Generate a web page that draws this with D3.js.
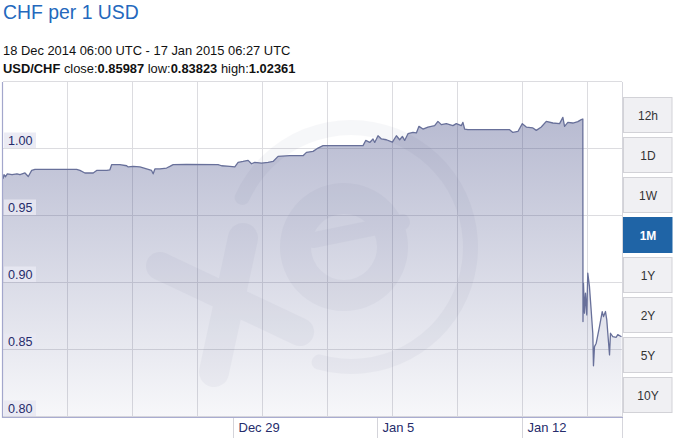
<!DOCTYPE html>
<html>
<head>
<meta charset="utf-8">
<script src="https://cdn.jsdelivr.net/npm/d3@7"></script>
<style>
  html, body { margin: 0; padding: 0; background: #fff; }
  svg { display: block; font-family: "Liberation Sans", Arial, Helvetica, sans-serif; }
</style>
</head>
<body>
<svg id="chart" width="674" height="438"></svg>
<script>
// ---------- data ----------
const title = "CHF per 1 USD";
const periodText = "18 Dec 2014 06:00 UTC - 17 Jan 2015 06:27 UTC";
const pairName = "USD/CHF";
const statLabels = ["close:", "low:", "high:"];
const statValues = ["0.85987", "0.83823", "1.02361"];

const times = [
  "2014-12-18T06:00Z","2014-12-18T07:10Z","2014-12-18T08:55Z","2014-12-18T11:00Z","2014-12-18T16:30Z",
  "2014-12-18T22:18Z","2014-12-19T01:47Z","2014-12-19T07:36Z","2014-12-19T11:27Z","2014-12-19T15:24Z",
  "2014-12-19T19:15Z","2014-12-21T19:48Z","2014-12-21T23:37Z","2014-12-22T05:26Z","2014-12-22T15:06Z",
  "2014-12-22T19:04Z","2014-12-23T07:03Z","2014-12-23T10:32Z","2014-12-23T12:31Z","2014-12-23T22:10Z",
  "2014-12-24T06:00Z","2014-12-24T07:50Z","2014-12-24T13:39Z","2014-12-24T21:27Z","2014-12-25T05:15Z",
  "2014-12-25T11:04Z","2014-12-25T12:56Z","2014-12-25T14:55Z","2014-12-25T20:44Z","2014-12-26T04:32Z",
  "2014-12-26T08:22Z","2014-12-26T12:13Z","2014-12-27T03:49Z","2014-12-28T16:35Z","2014-12-28T20:33Z",
  "2014-12-29T06:12Z","2014-12-29T12:01Z","2014-12-29T15:51Z","2014-12-29T21:40Z","2014-12-30T03:29Z",
  "2014-12-30T07:26Z","2014-12-30T11:17Z","2014-12-30T19:05Z","2014-12-31T02:46Z","2014-12-31T08:35Z",
  "2014-12-31T14:24Z","2015-01-01T04:02Z","2015-01-01T19:31Z","2015-01-01T23:28Z","2015-01-02T07:09Z",
  "2015-01-02T12:58Z","2015-01-02T18:48Z","2015-01-04T17:22Z","2015-01-04T20:30Z","2015-01-05T01:10Z",
  "2015-01-05T05:00Z","2015-01-05T07:00Z","2015-01-05T10:50Z","2015-01-05T14:47Z","2015-01-05T20:36Z",
  "2015-01-06T03:35Z","2015-01-06T08:14Z","2015-01-06T12:04Z","2015-01-06T15:13Z","2015-01-06T17:53Z",
  "2015-01-06T21:44Z","2015-01-07T03:33Z","2015-01-07T07:30Z","2015-01-07T10:32Z","2015-01-07T15:11Z",
  "2015-01-07T21:00Z","2015-01-08T04:48Z","2015-01-08T08:38Z","2015-01-08T12:35Z","2015-01-08T18:24Z",
  "2015-01-09T02:05Z","2015-01-09T06:02Z","2015-01-09T11:51Z","2015-01-09T13:43Z","2015-01-09T15:42Z",
  "2015-01-09T19:33Z","2015-01-11T20:07Z","2015-01-11T23:58Z","2015-01-12T05:47Z","2015-01-12T10:55Z",
  "2015-01-12T15:34Z","2015-01-12T23:15Z","2015-01-13T03:12Z","2015-01-13T09:01Z","2015-01-13T14:50Z",
  "2015-01-13T22:31Z","2015-01-14T06:19Z","2015-01-14T10:09Z","2015-01-14T12:08Z","2015-01-14T15:58Z",
  "2015-01-14T21:47Z","2015-01-15T03:37Z","2015-01-15T07:34Z","2015-01-15T09:25Z","2015-01-15T09:35Z",
  "2015-01-15T10:10Z","2015-01-15T11:20Z","2015-01-15T12:30Z","2015-01-15T14:00Z","2015-01-15T15:10Z",
  "2015-01-15T17:08Z","2015-01-15T19:06Z","2015-01-15T21:00Z","2015-01-15T21:48Z","2015-01-15T23:00Z",
  "2015-01-16T01:00Z","2015-01-16T04:48Z","2015-01-16T08:00Z","2015-01-16T09:30Z","2015-01-16T11:48Z",
  "2015-01-16T13:18Z","2015-01-16T14:30Z","2015-01-16T16:30Z","2015-01-16T17:36Z","2015-01-16T20:18Z",
  "2015-01-17T00:18Z","2015-01-17T02:06Z","2015-01-17T06:27Z"
];
const rates = [
  0.9778,0.9808,0.9793,0.9815,0.9808,
  0.9815,0.9808,0.9821,0.9795,0.9840,
  0.9848,0.9848,0.9840,0.9821,0.9821,
  0.9840,0.9840,0.9845,0.9883,0.9883,
  0.9875,0.9866,0.9870,0.9866,0.9851,
  0.9840,0.9815,0.9851,0.9851,0.9858,
  0.9870,0.9883,0.9885,0.9883,0.9875,
  0.9870,0.9866,0.9900,0.9907,0.9915,
  0.9890,0.9900,0.9895,0.9900,0.9907,
  0.9945,0.9950,0.9950,0.9975,0.9982,
  1.0007,1.0025,1.0025,1.0064,1.0049,
  1.0075,1.0049,1.0099,1.0075,1.0069,
  1.0052,1.0099,1.0069,1.0094,1.0064,
  1.0114,1.0124,1.0120,1.0169,1.0149,
  1.0164,1.0174,1.0206,1.0182,1.0189,
  1.0174,1.0189,1.0174,1.0199,1.0149,
  1.0144,1.0144,1.0124,1.0131,1.0189,
  1.0164,1.0157,1.0139,1.0164,1.0206,
  1.0194,1.0189,1.0236,1.0169,1.0199,
  1.0194,1.0204,1.0219,1.0224,0.8712,
  0.8999,0.8775,0.8924,0.8762,0.9074,
  0.8973,0.8799,0.8625,0.8382,0.8525,
  0.8551,0.8675,0.8787,0.8749,0.8787,
  0.8725,0.8625,0.8463,0.8625,0.8600,
  0.8595,0.8615,0.8599
];

const yTickValues = [0.80, 0.85, 0.90, 0.95, 1.00, 1.05];
const yTickLabels = ["0.80", "0.85", "0.90", "0.95", "1.00", ""];
const xTickDays = ["2014-12-29", "2015-01-05", "2015-01-12"];
const xTickLabels = ["Dec 29", "Jan 5", "Jan 12"];
const displayOffsetHours = -10; // chart's display time zone
const rangeButtons = ["12h", "1D", "1W", "1M", "1Y", "2Y", "5Y", "10Y"];
const activeRange = "1M";

// ---------- layout ----------
const svg = d3.select("#chart");
const plot = { left: 3, right: 622, top: 82, bottom: 417 };

const data = times.map((t, i) => ({ t: new Date(t), v: rates[i] }));

const x = d3.scaleUtc()
  .domain([new Date("2014-12-18T06:00Z"), new Date("2015-01-17T06:27Z")])
  .range([plot.left, plot.right - 0.5]);
const y = d3.scaleLinear().domain([0.80, 1.05]).range([plot.bottom, plot.top]);

// ---------- title / header ----------
svg.append("text").attr("x", 3).attr("y", 19)
  .attr("fill", "#2468bd").attr("font-size", 19.4).text(title);
svg.append("text").attr("x", 3).attr("y", 55)
  .attr("fill", "#111").attr("font-size", 12.9).text(periodText);
const stat = svg.append("text").attr("x", 3).attr("y", 72.5)
  .attr("fill", "#111").attr("font-size", 12.9);
stat.append("tspan").attr("font-weight", "bold").text(pairName + " ");
statLabels.forEach((l, i) => {
  stat.append("tspan").text((i ? " " : "") + l);
  stat.append("tspan").attr("font-weight", "bold").text(statValues[i]);
});

// ---------- defs ----------
const defs = svg.append("defs");
const grad = defs.append("linearGradient").attr("id", "areaGrad")
  .attr("gradientUnits", "userSpaceOnUse")
  .attr("x1", 0).attr("x2", 0).attr("y1", plot.top).attr("y2", plot.bottom);
grad.append("stop").attr("offset", 0).attr("stop-color", "rgb(58,66,128)").attr("stop-opacity", 0.40);
grad.append("stop").attr("offset", 1).attr("stop-color", "rgb(58,66,128)").attr("stop-opacity", 0.04);

// ---------- grid ----------
const grid = svg.append("g");
const gridStep = 65;
const gridXs = d3.range(1, 10).map(i => plot.left - 0.7 + i * gridStep).filter(v => v < plot.right - 5);
grid.selectAll("line.gx").data(gridXs).join("line")
  .attr("x1", d => Math.round(d) + 0.5).attr("x2", d => Math.round(d) + 0.5)
  .attr("y1", plot.top).attr("y2", plot.bottom)
  .attr("stroke", "#dcdce0").attr("stroke-width", 1);
grid.selectAll("line.gy").data(yTickValues).join("line")
  .attr("x1", plot.left).attr("x2", plot.right)
  .attr("y1", d => Math.round(y(d)) - 0.5).attr("y2", d => Math.round(y(d)) - 0.5)
  .attr("stroke", "#dcdce0").attr("stroke-width", 1);

// right border of plot
svg.append("line").attr("x1", plot.right + 0.5).attr("x2", plot.right + 0.5)
  .attr("y1", plot.top).attr("y2", 438).attr("stroke", "#d6d6dc");

// ---------- area ----------
const area = d3.area().x(d => x(d.t)).y0(y(0.80)).y1(d => y(d.v));
svg.append("path").datum(data).attr("d", area).attr("fill", "url(#areaGrad)");

// ---------- watermark ----------
const wm = svg.append("g").attr("opacity", 0.035).attr("fill", "#2e3466").attr("stroke", "#2e3466");
const ringArc = d3.arc().innerRadius(112).outerRadius(127)
  .startAngle(-69 * Math.PI / 180).endAngle(199 * Math.PI / 180).cornerRadius(7);
wm.append("path").attr("transform", "translate(351,247)").attr("d", ringArc()).attr("stroke", "none");
const eArc = d3.arc().innerRadius(33).outerRadius(64)
  .startAngle(80 * Math.PI / 180).endAngle(472 * Math.PI / 180).cornerRadius(8);
wm.append("path").attr("transform", "translate(344,247)").attr("d", eArc()).attr("stroke", "none");
wm.append("line").attr("x1", 314).attr("y1", 240).attr("x2", 402).attr("y2", 222)
  .attr("stroke-width", 16).attr("stroke-linecap", "round").attr("fill", "none");
wm.append("line").attr("x1", 243).attr("y1", 238).attr("x2", 214).attr("y2", 372)
  .attr("stroke-width", 30).attr("stroke-linecap", "round").attr("fill", "none");
wm.append("line").attr("x1", 160).attr("y1", 266).attr("x2", 300).attr("y2", 332)
  .attr("stroke-width", 28).attr("stroke-linecap", "round").attr("fill", "none");

// ---------- line ----------
const line = d3.line().x(d => x(d.t)).y(d => y(d.v));
svg.append("path").datum(data).attr("d", line)
  .attr("fill", "none").attr("stroke", "#68709a").attr("stroke-width", 1.3)
  .attr("stroke-linejoin", "round");

// ---------- axes ----------
svg.append("line").attr("x1", plot.left - 0.5).attr("x2", plot.left - 0.5)
  .attr("y1", plot.top).attr("y2", plot.bottom + 1)
  .attr("stroke", "#a3a7cc").attr("stroke-width", 1.2);
svg.append("line").attr("x1", plot.left - 1).attr("x2", plot.right + 1)
  .attr("y1", plot.bottom + 0.5).attr("y2", plot.bottom + 0.5)
  .attr("stroke", "#a9acd0").attr("stroke-width", 1.2);

// y labels
const yl = svg.append("g");
yTickValues.forEach((v, i) => {
  if (!yTickLabels[i]) return;
  const gy = Math.round(y(v)) - 0.5;
  yl.append("rect").attr("x", 4).attr("y", gy - 16).attr("width", 32).attr("height", 15.5)
    .attr("fill", "#e8e8f2").attr("opacity", 0.85);
  yl.append("text").attr("x", 8).attr("y", gy - 3.5)
    .attr("font-size", 12.6).attr("fill", "#262c6b").text(yTickLabels[i]);
});

// x labels
const xt = svg.append("g");
xTickDays.forEach((d, i) => {
  const t = new Date(d + "T00:00Z");
  const tx = Math.round(x(d3.utcHour.offset(t, -displayOffsetHours))) + 0.5;
  xt.append("line").attr("x1", tx).attr("x2", tx).attr("y1", plot.bottom + 1).attr("y2", 438)
    .attr("stroke", "#d4d4da");
  xt.append("text").attr("x", tx + 5).attr("y", 432)
    .attr("font-size", 13).attr("fill", "#262c6b").text(xTickLabels[i]);
});

// ---------- range buttons ----------
const btn = svg.append("g").selectAll("g").data(rangeButtons).join("g")
  .attr("transform", (d, i) => `translate(623,${97.5 + i * 40})`);
btn.append("rect").attr("x", 0.5).attr("y", 0).attr("width", 48.5).attr("height", 35)
  .attr("fill", d => d === activeRange ? "#1f64a6" : "#f0f0f3")
  .attr("stroke", d => d === activeRange ? "#1f64a6" : "#d2d2d7");
btn.append("text").attr("x", 25).attr("y", 22).attr("text-anchor", "middle")
  .attr("font-size", 12)
  .attr("font-weight", d => d === activeRange ? "bold" : "normal")
  .attr("fill", d => d === activeRange ? "#fff" : "#333").text(d => d);
</script>
</body>
</html>
